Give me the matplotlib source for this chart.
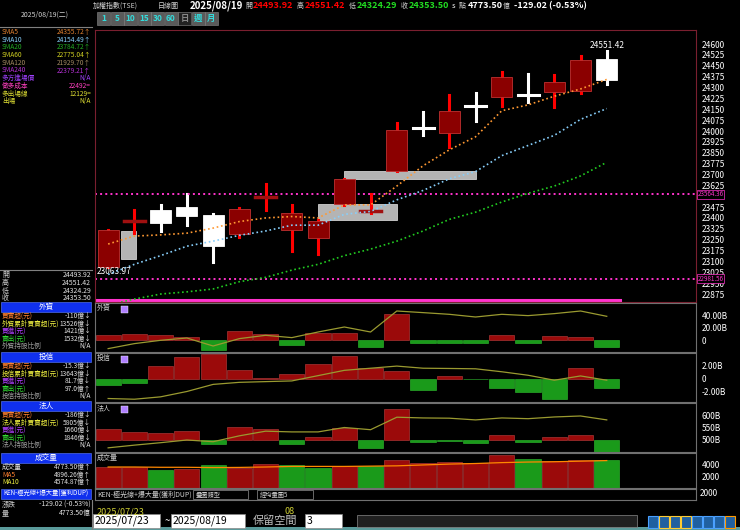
import matplotlib
matplotlib.use("Agg")
import matplotlib.pyplot as plt
from matplotlib.patches import Rectangle
import numpy as np

plt.rcParams['font.family'] = ['Noto Sans CJK TC', 'DejaVu Sans']

W, H = 740, 530
dates = ["07/23","07/24","07/25","07/28","07/29","07/30","07/31","08/01","08/04","08/05",
         "08/06","08/07","08/08","08/11","08/12","08/13","08/14","08/15","08/18","08/19"]
opens  = [23063,23377,23456,23479,23420,23290,23540,23320,23263,23495,23442,23722,24028,23983,24175,24232,24255,24271,24273,24493.92]
closes = [23318,23382,23365,23411,23204,23463,23545,23433,23381,23669,23447,24005,24020,24137,24170,24373,24250,24339,24487,24353.50]
highs  = [23318,23456,23490,23563,23426,23470,23631,23488,23385,23672,23563,24053,24130,24250,24262,24409,24391,24387,24516,24551.42]
lows   = [23063.97,23295,23308,23352,23097,23270,23456,23170,23154,23490,23435,23722,23971,23887,24067,24175,24203,24164,24260,24324.29]
ma5  = [23220,23275,23283,23295,23330,23375,23400,23410,23400,23490,23490,23620,23760,23870,23960,24140,24180,24240,24290,24356]
ma10 = [23010,23080,23140,23205,23240,23280,23310,23350,23350,23425,23445,23525,23590,23670,23720,23830,23900,23970,24080,24155]
ma20 = [22800,22840,22875,22890,22910,22960,22990,23040,23080,23140,23185,23240,23310,23390,23440,23510,23570,23620,23690,23784]
gap_zones = [(0.5,1.05,23120,23313),(8.0,11.0,23386,23499),(9.0,14.0,23669,23726)]
levels = [23564.36, 22981.56]

foreign_bar  = [9,10.7,8,5.3,-16,15,10.7,-7,12,12,-11,42.7,-4,-4,-5,8,-4,6.4,5.3,-11]
foreign_line = [-13.3,-5.3,0,3.7,-9.1,2.7,8,4.3,13.3,21.3,13.3,46.9,44.3,41.6,37.3,41.6,39.5,42.7,46.9,38.4]
trust_bar  = [-1.0,-0.6,2.0,3.4,3.9,1.4,0.1,0.8,2.3,3.5,1.75,1.2,-1.8,0.5,-0.1,-1.5,-2.0,-3.1,1.75,-1.5]
trust_line = [-3.06,-3.17,-2.8,-1.97,-0.87,-0.55,-0.44,-0.33,0.49,1.31,1.64,1.97,1.64,1.6,1.55,1.09,0.55,-0.22,0.44,-0.22]
inst_bar  = [44,33,28,36,-15,53,46,-17,11,50,-31,128,-10,-3,-14,22,-10,14,19,-49]
inst_line = [468,479,489,500,493,517,536,533,533,551,542,593,590,589,582,590,587,594,598,582]
volume = [3600,3600,3030,3260,3890,3490,4170,4000,3430,3770,3770,4740,4340,4460,4290,5710,4910,4630,4860,4774]
vol_up = [1,1,0,1,0,1,1,0,0,1,0,1,1,1,1,1,0,1,1,0]
vol_ma = [3600,3600,3550,3550,3500,3530,3600,3700,3700,3700,3750,3800,3950,4100,4200,4350,4450,4500,4600,4700]
price_ticks = [t for t in range(22875, 24601, 75) if t != 23550]

fig = plt.figure(figsize=(7.4, 5.3), dpi=100)
fig.patch.set_facecolor('black')

def ax_px(x0, y0, x1, y1):
    return fig.add_axes([x0/W, 1-y1/H, (x1-x0)/W, (y1-y0)/H])

def T(x, y, s, c='#d0d0d0', size=5.5, ha='left', va='center', **kw):
    fig.text(x/W, 1-y/H, s, color=c, fontsize=size, ha=ha, va=va, **kw)

UP, DN = '#8b0000', 'white'
xlim = (-0.5, 22.4)
n = len(dates)
x = np.arange(n)

def style(ax, col='#707070'):
    ax.set_facecolor('black')
    for s in ax.spines.values():
        s.set_color(col); s.set_linewidth(0.8)
    ax.yaxis.tick_right()
    ax.tick_params(axis='y', colors='white', labelsize=6, length=0, pad=4)
    ax.set_xticks([])
    ax.set_xlim(*xlim)

# main chart
ax = ax_px(95, 30, 696, 302)
style(ax, '#7a1f2f')
ax.set_ylim(22820, 24697)
for (a, b, lo, hi) in gap_zones:
    ax.add_patch(Rectangle((a, lo), b-a, hi-lo, facecolor='#b4b4b4', edgecolor='#d0d0d0', lw=0.6, zorder=1))
for i in range(n):
    o, c, h, l = opens[i], closes[i], highs[i], lows[i]
    doji = abs(c-o) < 12
    if doji:
        if c < o or i in (12, 14, 16):
            ax.plot([i, i], [l, h], color='white', lw=2.2, zorder=3)
            ax.plot([i-0.4, i+0.4], [c, c], color='white', lw=2.2, zorder=3)
        else:
            ax.plot([i, i], [l, h], color='red', lw=2.2, zorder=3)
            ax.plot([i-0.4, i+0.4], [c, c], color='#a01010', lw=2.5, zorder=3)
    else:
        col = UP if c > o else DN
        wc = 'red' if c > o else 'white'
        ax.plot([i, i], [l, h], color=wc, lw=2.2, zorder=2)
        ax.add_patch(Rectangle((i-0.4, min(o, c)), 0.8, abs(c-o), facecolor=col,
                               edgecolor='#c03030' if c > o else 'white', lw=0.6, zorder=3))
ax.plot(x, ma5, color='#ff9933', ls=':', lw=1.2, zorder=4)
ax.plot(x, ma10, color='#87cefa', ls=':', lw=1.2, zorder=4)
ax.plot(x, ma20, color='#22cc22', ls=':', lw=1.2, zorder=4)
for lv in levels:
    ax.axhline(lv, color='#ff33cc', ls=':', lw=1.4, zorder=2)
ax.plot([-0.5, 19.5], [22835, 22835], color='#ff33cc', lw=2.2)
ax.set_yticks(price_ticks)
ax.text(-0.45, 23063, '23063.97', color='white', fontsize=6, va='top')
ax.text(19, 24560, '24551.42', color='white', fontsize=6, ha='center', va='bottom')
for lv in levels:
    ax.text(22.45, lv, f'{lv:.2f}', color='#ff33cc', fontsize=4.5, va='center',
            bbox=dict(facecolor='black', edgecolor='#ff33cc', pad=0.3, lw=0.5))

def lower(y0, y1, bars, line, ylim, ticks, tlabels, title, base=0, icon=True, colors=None, lc='#9a9a30'):
    a = ax_px(95, y0, 696, y1)
    style(a)
    a.set_ylim(*ylim)
    for i, v in enumerate(bars):
        up = (v >= 0) if colors is None else colors[i]
        a.add_patch(Rectangle((i-0.48, base), 0.96, v, facecolor='#9b0a0a' if up else '#1a9a1a',
                              edgecolor='#c04040' if up else '#30c030', lw=0.4))
    a.plot(x, line, color=lc, lw=0.9)
    a.set_yticks(ticks); a.set_yticklabels(tlabels)
    T(97, y0+5, title, size=5)
    if icon:
        fig.patches.append(Rectangle((121/W, 1-(y0+10)/H), 7/W, 7/H, transform=fig.transFigure, facecolor='#b080ff', edgecolor='white', lw=0.3))
    return a

lower(303, 352, foreign_bar, foreign_line, (-18.7, 59.7), [0, 20, 40], ['0', '20.00B', '40.00B'], '外資')
lower(353, 402, trust_bar, trust_line, (-3.6, 4.0), [-2, 0, 2], ['-2.00B', '0', '2.00B'], '投信')
lower(403, 452, inst_bar, inst_line, (451, 651), [500, 550, 600], ['500B', '550B', '600B'], '法人', base=500)
lower(453, 488, volume, vol_ma, (0, 6000), [2000, 4000], ['2000', '4000'], '成交量', icon=False, colors=vol_up, lc='#ff8800')

# strip
sa = ax_px(95, 489, 696, 500); style(sa); sa.set_yticks([]); sa.set_ylim(0, 1)
T(97, 494.5, 'KEN-極光線+爆大量(獲利DUP)', size=5)
for (x0, x1, s) in [(193, 248, '疊圖類型'), (257, 313, '經均量圖5')]:
    fig.patches.append(Rectangle((x0/W, 1-499/H), (x1-x0)/W, 9/H, transform=fig.transFigure, facecolor='black', edgecolor='#909090', lw=0.5))
    T(x0+3, 494.5, s, size=4.5)
T(700, 493, '2000', c='white', size=6)
T(97, 512, '2025/07/23', c='#cccc33', size=6.5)
T(290, 512, '08', c='#cccc33', size=6.5, ha='center')

# header
T(93, 6, '加權指數(TSE)', size=5)
T(158, 6, '日線圖', size=5)
items = [(190, '2025/08/19', 'white', 7), (245, '開', '#d0d0d0', 5), (253, '24493.92', 'red', 6.5),
         (297, '高', '#d0d0d0', 5), (305, '24551.42', 'red', 6.5), (349, '低', '#d0d0d0', 5),
         (357, '24324.29', '#22dd22', 6.5), (401, '收', '#d0d0d0', 5), (409, '24353.50', '#22dd22', 6.5),
         (452, 's', 'white', 5.5), (459, '點', '#d0d0d0', 5), (468, '4773.50', 'white', 6.5),
         (503, '億', '#d0d0d0', 5), (514, '-129.02 (-0.53%)', 'white', 6.5)]
for xx, s, c, sz in items:
    T(xx, 6, s, c=c, size=sz, weight='bold' if sz > 6 else 'normal')
bx = 97
for s in ['1', '5', '10', '15', '30', '60', '日', '週', '月']:
    w = 13
    fig.patches.append(Rectangle((bx/W, 1-25/H), w/W, 13/H, transform=fig.transFigure,
                                 facecolor='#5a5a5a' if s != '日' else '#222', edgecolor='#888', lw=0.4))
    T(bx+w/2, 18.5, s, c='#33dddd' if s != '日' else '#888', size=6, ha='center', weight='bold')
    bx += w + 0.5

# left panel
fig.add_artist(plt.Line2D([92/W, 92/W], [0, 1-500/H], color='#808080', lw=0.8))
T(45, 15, '2025/08/19(二)', size=5, ha='center')
fig.add_artist(plt.Line2D([0, 92/W], [1-27/H, 1-27/H], color='#808080', lw=0.8))
ma_rows = [('SMA5', '24355.72↑', '#e08030'), ('SMA10', '24154.49↑', '#87cefa'), ('SMA20', '23784.72↑', '#22aa22'),
           ('SMA60', '22775.04↑', '#cccc22'), ('SMA120', '21929.70↑', '#a08860'), ('SMA240', '22379.21↑', '#b030d0'),
           ('多方進場價', 'N/A', '#a040ff'), ('做多成本', '22492=', '#ff40c0'), ('多出場線', '12129=', '#dddd33'),
           ('出場', 'N/A', '#dddd33')]
yy = 32
for lab, val, c in ma_rows:
    T(2, yy, lab, c=c, size=4.8); T(91, yy, val, c=c, size=4.8, ha='right'); yy += 7.7
fig.add_artist(plt.Line2D([0, 92/W], [1-270/H, 1-270/H], color='#808080', lw=0.8))
yy = 275
for lab, val in [('開', '24493.92'), ('高', '24551.42'), ('低', '24324.29'), ('收', '24353.50')]:
    T(2, yy, lab, size=5); T(91, yy, val, c='#e0e0e0', size=5, ha='right'); yy += 7.8

def section(y, title, rows):
    fig.patches.append(Rectangle((1/W, 1-(y+5)/H), 90/W, 10/H, transform=fig.transFigure, facecolor='#1030ee', edgecolor='#6080ff', lw=0.4))
    T(46, y, title, c='white', size=5.5, ha='center')
    yy = y + 9
    for lab, val, c in rows:
        T(2, yy, lab, c=c, size=4.8); T(91, yy, val, c='#e0e0e0', size=4.8, ha='right'); yy += 7.6

section(307, '外資', [('買賣超(元)', '-110億↓', '#ff8030'), ('外資累計買賣超(元)', '13526億↓', '#eeee40'),
                    ('買進(元)', '1421億↓', '#b040ff'), ('賣出(元)', '1532億↓', '#33dd33'), ('外資持股比例', 'N/A', '#a0a0a0')])
section(357, '投信', [('買賣超(元)', '-15.3億↓', '#ff8030'), ('投信累計買賣超(元)', '13643億↓', '#eeee40'),
                    ('買進(元)', '81.7億↓', '#b040ff'), ('賣出(元)', '97.0億↑', '#33dd33'), ('投信持股比例', 'N/A', '#a0a0a0')])
section(406, '法人', [('買賣超(元)', '-186億↓', '#ff8030'), ('法人累計買賣超(元)', '5805億↓', '#eeee40'),
                    ('買進(元)', '1660億↓', '#b040ff'), ('賣出(元)', '1846億↓', '#33dd33'), ('法人持股比例', 'N/A', '#a0a0a0')])
section(458, '成交量', [('成交量', '4773.50億↑', '#e0e0e0'), ('MA5', '4896.26億↑', '#ff8030'), ('MA10', '4574.87億↑', '#eeee40')])
fig.patches.append(Rectangle((1/W, 1-499/H), 90/W, 10/H, transform=fig.transFigure, facecolor='#1030ee', edgecolor='#6080ff', lw=0.4))
T(46, 494, 'KEN-極光線+爆大量(獲利DUP)', c='white', size=4.5, ha='center')
T(2, 505, '漲跌', size=5); T(91, 505, '-129.02 (-0.53%)', c='#e0e0e0', size=5, ha='right')
T(2, 513, '量', size=5); T(91, 513, '4773.50億', c='#e0e0e0', size=5, ha='right')

# bottom controls
fig.patches.append(Rectangle((0, 0), 1, 3/H, transform=fig.transFigure, facecolor='#5a9a9a'))
for (x0, x1, s) in [(93, 160, '2025/07/23'), (171, 245, '2025/08/19'), (305, 342, '3')]:
    fig.patches.append(Rectangle((x0/W, 1-528/H), (x1-x0)/W, 14/H, transform=fig.transFigure, facecolor='white', edgecolor='#888', lw=0.5))
    T(x0+2, 521, s, c='black', size=7.5)
T(165, 521, '~', c='white', size=7)
T(253, 521, '保留空間', c='#c0c0c0', size=8)
fig.patches.append(Rectangle((357/W, 1-527/H), 280/W, 12/H, transform=fig.transFigure, facecolor='#202020', edgecolor='#888', lw=0.5))
for i, c in enumerate(['#4aa0ff', '#ffcc33', '#ffcc33', '#ffcc33', '#4aa0ff', '#4aa0ff', '#4aa0ff', '#ff9900']):
    fig.patches.append(Rectangle(((648+i*11)/W, 1-528/H), 10/W, 12/H, transform=fig.transFigure, facecolor='#2060a0', edgecolor=c, lw=0.8))

fig.savefig('out.png', dpi=100, facecolor='black')
